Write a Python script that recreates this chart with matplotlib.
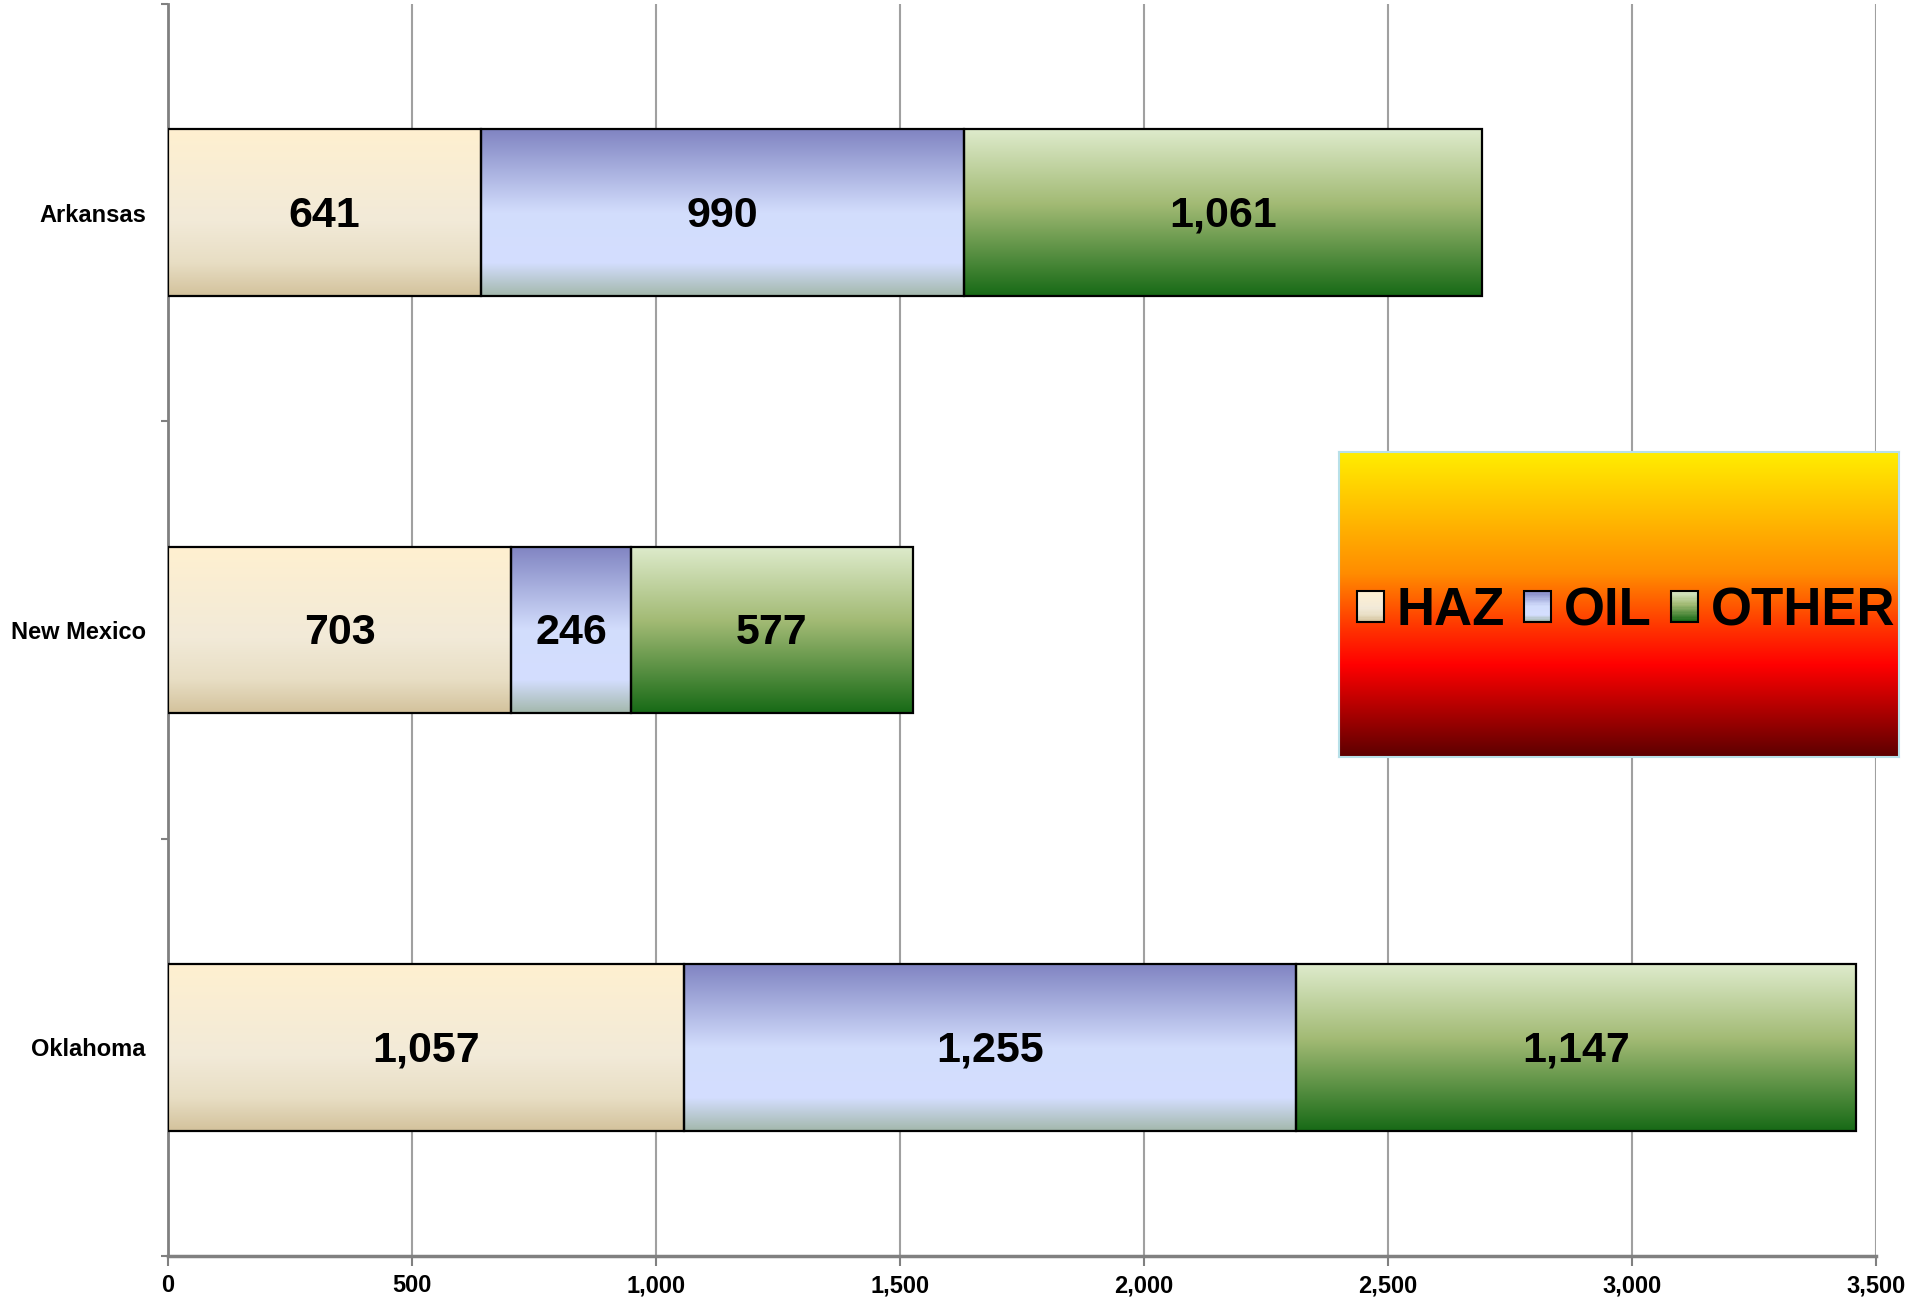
import numpy as np
import matplotlib
matplotlib.use("Agg")
import matplotlib.pyplot as plt
from matplotlib.colors import LinearSegmentedColormap
from matplotlib.patches import Rectangle, Patch
from matplotlib.legend_handler import HandlerBase
from matplotlib.ticker import FuncFormatter
from matplotlib.transforms import offset_copy

plt.rcParams['font.family'] = ['Liberation Sans', 'DejaVu Sans']

# data
states = ["Arkansas", "New Mexico", "Oklahoma"]
series = ["HAZ", "OIL", "OTHER"]
haz = [641, 703, 1057]
oil = [990, 246, 1255]
other = [1061, 577, 1147]
x_ticks = [0, 500, 1000, 1500, 2000, 2500, 3000, 3500]

# gradient fills, top -> bottom
grad_stops = {
    "HAZ": [(0.0, "#FFF0D0"), (0.55, "#F2EAD8"), (0.8, "#E8DEC4"), (1.0, "#D3C29C")],
    "OIL": [(0.0, "#8084C2"), (0.5, "#D2DDFC"), (0.8, "#D4DEFF"), (1.0, "#A3B8AC")],
    "OTHER": [(0.0, "#DEEBCC"), (0.45, "#A2BA74"), (1.0, "#176A16")],
}
legend_stops = [(0.0, "#FFEE00"), (0.4, "#FF8C00"), (0.58, "#FF3300"),
                (0.7, "#FF0000"), (1.0, "#5C0000")]

cmaps = {k: LinearSegmentedColormap.from_list(k, v) for k, v in grad_stops.items()}
grad = np.linspace(0, 1, 256).reshape(-1, 1)


class GradHandler(HandlerBase):
    def __init__(self, cmap):
        super().__init__()
        self.cmap = cmap

    def create_artists(self, legend, orig_handle, xdescent, ydescent,
                       width, height, fontsize, trans):
        arts = []
        n = 24
        for i in range(n):
            c = self.cmap((i + 0.5) / n)
            y0 = -ydescent + height * (1 - (i + 1) / n)
            arts.append(Rectangle((-xdescent, y0), width, height / n + 0.3,
                                  facecolor=c, edgecolor="none", transform=trans))
        arts.append(Rectangle((-xdescent, -ydescent), width, height, facecolor="none",
                              edgecolor="black", lw=1.5, transform=trans))
        return arts


fig = plt.figure(figsize=(19.29, 12.99), dpi=100)
ax = fig.add_axes([0.0871, 0.0331, 0.8854, 0.9638])
label_tr = offset_copy(ax.transData, fig=fig, y=-3, units="dots")

ypos = np.arange(len(states))[::-1]
values = {"HAZ": haz, "OIL": oil, "OTHER": other}
left = np.zeros(len(states))
for name in series:
    vals = np.array(values[name])
    bars = ax.barh(ypos, vals, left=left, height=0.4, facecolor="none",
                   edgecolor="black", linewidth=1.6, zorder=4)
    for b, v in zip(bars, vals):
        x0, y0, w, h = b.get_x(), b.get_y(), b.get_width(), b.get_height()
        ax.imshow(grad, cmap=cmaps[name], aspect="auto", origin="upper",
                  extent=[x0, x0 + w, y0, y0 + h], zorder=3, interpolation="bilinear")
        ax.text(x0 + w / 2, y0 + h / 2, f"{v:,}", ha="center", va="center",
                fontsize=31, fontweight="bold", zorder=5, transform=label_tr)
    left += vals

ax.set_xlim(0, 3500)
ax.set_ylim(-0.5, 2.5)
ax.set_aspect("auto")

ax.set_xticks(x_ticks)
ax.xaxis.set_major_formatter(FuncFormatter(lambda v, p: f"{int(v):,}"))
ax.set_yticks(ypos)
ax.set_yticklabels(states)
ax.set_yticks([-0.5, 0.5, 1.5, 2.5], minor=True)
for lab in ax.get_xticklabels() + ax.get_yticklabels():
    lab.set_fontweight("bold")
ax.tick_params(axis="x", labelsize=17, length=7, width=1.5, color="#808080", pad=6)
ax.tick_params(axis="y", which="major", labelsize=17, length=0, pad=16)
ax.tick_params(axis="y", which="minor", length=5, width=1.5, color="#808080")

ax.grid(axis="x", color="#A0A0A0", linewidth=1.5, zorder=0)
ax.set_axisbelow(True)
for s in ["top", "right"]:
    ax.spines[s].set_visible(False)
ax.spines["left"].set_color("#808080")
ax.spines["left"].set_linewidth(2)
ax.spines["bottom"].set_color("#808080")
ax.spines["bottom"].set_linewidth(2.5)

# legend box with gradient background
lax = fig.add_axes([0.6941, 0.4173, 0.2903, 0.2348])
lax.imshow(grad, cmap=LinearSegmentedColormap.from_list("leg", legend_stops),
           aspect="auto", origin="upper", extent=[0, 1, 0, 1], interpolation="bilinear")
lax.set_xlim(0, 1)
lax.set_ylim(0, 1)
lax.set_xticks([])
lax.set_yticks([])
for s in lax.spines.values():
    s.set_color("#B8E0E8")
    s.set_linewidth(1.5)

handles = [Patch(label=n) for n in series]
hmap = {h: GradHandler(cmaps[n]) for h, n in zip(handles, series)}
lax.legend(handles=handles, labels=series, handler_map=hmap, loc="center",
           bbox_to_anchor=(0.513, 0.478), ncol=3,
           frameon=False, prop={"weight": "bold", "size": 38},
           handlelength=0.51, handleheight=0.51, handletextpad=0.25,
           columnspacing=0.36, borderaxespad=0, borderpad=0)

fig.savefig("out.png", dpi=100)
